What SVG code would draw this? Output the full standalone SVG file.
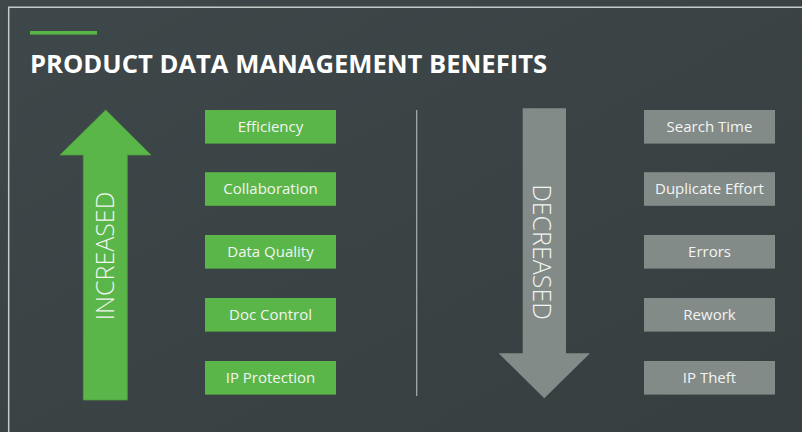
<svg xmlns="http://www.w3.org/2000/svg" width="802" height="432" viewBox="0 0 802 432">
  <defs>
    <linearGradient id="bg" x1="0" y1="0" x2="1" y2="1">
      <stop offset="0" stop-color="#3e4749"/>
      <stop offset="1" stop-color="#363e40"/>
    </linearGradient>
    <style>
      .gbox { fill: #5ab648; }
      .rbox { fill: #838b89; }
      .lbl { font-family: "Open Sans", "Liberation Sans", sans-serif; font-size: 15px; fill: #f2f4f2; text-anchor: middle; }
      .big { font-family: "Open Sans", "Liberation Sans", sans-serif; font-size: 25px; font-weight: 300; fill: #f2f4f2; text-anchor: middle; }
      .title { font-family: "Open Sans", "Liberation Sans", sans-serif; font-size: 25.6px; font-weight: 700; fill: #ffffff; }
    </style>
  </defs>
  <rect x="0" y="0" width="802" height="432" fill="url(#bg)"/>
  <path d="M8.7 432 V7.3 H802" fill="none" stroke="#c3cbca" stroke-width="1.5"/>
  <rect x="30" y="31" width="67" height="3.6" fill="#5ab648"/>
  <text class="title" x="30" y="72.7">PRODUCT DATA MANAGEMENT BENEFITS</text>

  <g id="increased-arrow">
    <polygon points="105.7,110 151,155 127.3,155 127.3,400 83.3,400 83.3,155 60,155" fill="#5ab648" stroke="#4f9d3f" stroke-width="0.8"/>
    <text class="big" transform="translate(114.3,256) rotate(-90)" x="0" y="0">INCREASED</text>
  </g>

  <g id="divider">
    <line x1="416.7" y1="110" x2="416.7" y2="396" stroke="#aab2b1" stroke-width="1.2"/>
  </g>

  <g id="decreased-arrow">
    <polygon points="522.7,108.3 566,108.3 566,353.3 590,353.3 544.3,398.3 498.7,353.3 522.7,353.3" fill="#838b89"/>
    <text class="big" transform="translate(533,252) rotate(90)" x="0" y="0">DECREASED</text>
  </g>

  <g id="efficiency"><rect class="gbox" x="205" y="110" width="131" height="33.6"/><text class="lbl" x="270.5" y="132">Efficiency</text></g>
  <g id="collaboration"><rect class="gbox" x="205" y="172.2" width="131" height="33.6"/><text class="lbl" x="270.5" y="194.2">Collaboration</text></g>
  <g id="data-quality"><rect class="gbox" x="205" y="235" width="131" height="33.6"/><text class="lbl" x="270.5" y="257">Data Quality</text></g>
  <g id="doc-control"><rect class="gbox" x="205" y="298" width="131" height="33.6"/><text class="lbl" x="270.5" y="320">Doc Control</text></g>
  <g id="ip-protection"><rect class="gbox" x="205" y="361" width="131" height="33.6"/><text class="lbl" x="270.5" y="383">IP Protection</text></g>

  <g id="search-time"><rect class="rbox" x="644" y="110" width="131" height="33.6"/><text class="lbl" x="709.5" y="132">Search Time</text></g>
  <g id="duplicate-effort"><rect class="rbox" x="644" y="172.2" width="131" height="33.6"/><text class="lbl" x="709.5" y="194.2">Duplicate Effort</text></g>
  <g id="errors"><rect class="rbox" x="644" y="235" width="131" height="33.6"/><text class="lbl" x="709.5" y="257">Errors</text></g>
  <g id="rework"><rect class="rbox" x="644" y="298" width="131" height="33.6"/><text class="lbl" x="709.5" y="320">Rework</text></g>
  <g id="ip-theft"><rect class="rbox" x="644" y="361" width="131" height="33.6"/><text class="lbl" x="709.5" y="383">IP Theft</text></g>
</svg>
